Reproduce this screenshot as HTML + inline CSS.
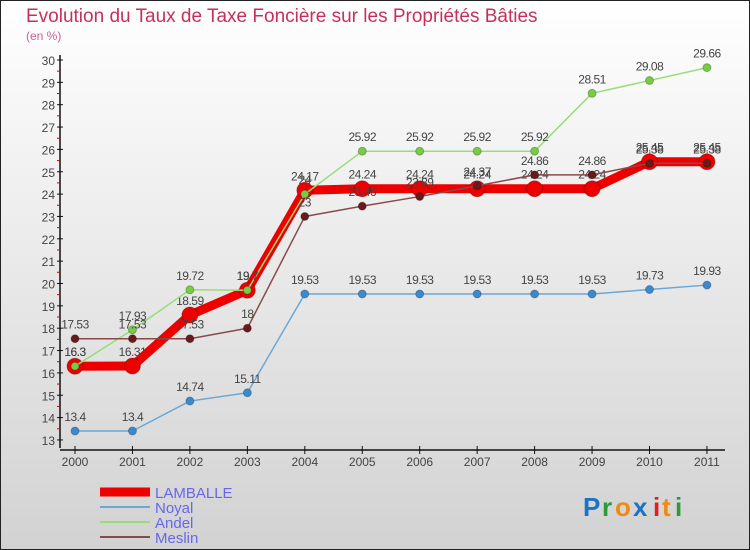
<!DOCTYPE html>
<html><head><meta charset="utf-8"><style>
body{margin:0;padding:0}
#wrap{width:750px;height:550px;position:relative;overflow:hidden}
svg{display:block;font-family:"Liberation Sans",sans-serif}
</style></head><body>
<div id="wrap">
<svg id="chart" width="750" height="550" viewBox="0 0 750 550">
<defs><linearGradient id="bg" x1="0" y1="0" x2="0" y2="1"><stop offset="0" stop-color="#ffffff"/><stop offset="1" stop-color="#d2d2d2"/></linearGradient></defs>
<rect x="0.5" y="0.5" width="749" height="549" fill="url(#bg)" stroke="#222"/>
<text x="26" y="22" font-size="19" fill="#c8305a">Evolution du Taux de Taxe Foncière sur les Propriétés Bâties</text>
<text x="26" y="40" font-size="12" fill="#c8609a">(en %)</text>
<g id="axes"></g>
<g id="series"></g>
<g id="legend"></g>
<g font-size="26" font-weight="bold">
<text x="583" y="516" fill="#1a73c8">P</text><text x="602" y="516" fill="#2a9a3a">r</text><text x="615" y="516" fill="#f08a10">o</text><text x="633" y="516" fill="#1a73c8">x</text><text x="653" y="516" fill="#e02020">i</text><text x="662" y="516" fill="#f08a10">t</text><text x="675" y="516" fill="#2a9a3a">i</text>
</g>
</svg></div>
<script>
const years=["2000","2001","2002","2003","2004","2005","2006","2007","2008","2009","2010","2011"];
const yTicks=[13,14,15,16,17,18,19,20,21,22,23,24,25,26,27,28,29,30];
const lamballe=[16.3,16.31,18.59,19.7,24.17,24.24,24.24,24.24,24.24,24.24,25.45,25.45];
const noyal=[13.4,13.4,14.74,15.11,19.53,19.53,19.53,19.53,19.53,19.53,19.73,19.93];
const andel=[16.3,17.93,19.72,19.7,24,25.92,25.92,25.92,25.92,28.51,29.08,29.66];
const meslin=[17.53,17.53,17.53,18,23,23.46,23.89,24.37,24.86,24.86,25.38,25.38];
const NS="http://www.w3.org/2000/svg";
const xS=i=>75+i*57.45;
const yS=v=>60+(30-v)*22.35;
function mk(t,a,p){const e=document.createElementNS(NS,t);for(const k in a)e.setAttribute(k,a[k]);p.appendChild(e);return e;}
const ax=document.getElementById('axes');
let yl=mk('line',{x1:60,y1:55,x2:60,y2:448,stroke:'#111','stroke-width':1.5},ax);


let xl=mk('line',{x1:60,y1:450,x2:725,y2:450,stroke:'#111','stroke-width':1.5},ax);


yTicks.forEach(v=>{const y=yS(v);
 mk('line',{x1:57,y1:y,x2:63,y2:y,stroke:'#111'},ax);
 if(v<30)mk('line',{x1:57,y1:y-11.2,x2:60,y2:y-11.2,stroke:'#d00'},ax);
 const t=mk('text',{x:55,y:y+5,'text-anchor':'end','font-size':12,fill:'#444'},ax);t.textContent=v;
 
 });
years.forEach((yr,i)=>{const x=xS(i);
 mk('line',{x1:x,y1:446,x2:x,y2:454,stroke:'#111'},ax);
 const t=mk('text',{x:x,y:466,'text-anchor':'middle','font-size':12,fill:'#444'},ax);t.textContent=yr;
 
 });
const sg=document.getElementById('series');
const defs=[
 {n:'noyal',d:noyal,c:'#6aa8d8',pc:'#3a8ad0',w:1.5,r:4},
 {n:'andel',d:andel,c:'#99dd77',pc:'#77cc44',w:1.5,r:4},
 {n:'meslin',d:meslin,c:'#8a4a4a',pc:'#6a1a1a',w:1.5,r:4},
 {n:'lamballe',d:lamballe,c:'#ee0000',pc:'#ee0000',w:9,r:8}];
const order=[defs[3],defs[0],defs[1],defs[2]];
order.forEach(s=>{
 const g=mk('g',{},sg);
 
 
 const pl=mk('polyline',{points:s.d.map((v,i)=>xS(i)+','+yS(v)).join(' '),fill:'none',stroke:s.c,'stroke-width':s.w,'stroke-linejoin':'round'},g);
 
 
 s.d.forEach((v,i)=>{
  const c=mk('circle',{cx:xS(i),cy:yS(v),r:s.r,fill:s.pc,stroke:'rgba(0,0,0,0.25)'},g);
  
  
  const t=mk('text',{x:xS(i),y:yS(v)-10,'text-anchor':'middle','font-size':12,fill:'#444','letter-spacing':'-0.5'},g);t.textContent=v;
  
  
 });
});
const lg=document.getElementById('legend');
const leg=[{n:'LAMBALLE',c:'#ee0000',w:9},{n:'Noyal',c:'#6aa8d8',w:2},{n:'Andel',c:'#99dd77',w:2},{n:'Meslin',c:'#8a4a4a',w:2}];
leg.forEach((l,i)=>{const y=492+i*15;
 const g=mk('g',{},lg);
 
 
 mk('line',{x1:100,y1:y,x2:150,y2:y,stroke:l.c,'stroke-width':l.w},g);
 const t=mk('text',{x:155,y:y+6,'font-size':15,fill:'#6666ee'},g);t.textContent=l.n;
});
</script>
</body></html>
